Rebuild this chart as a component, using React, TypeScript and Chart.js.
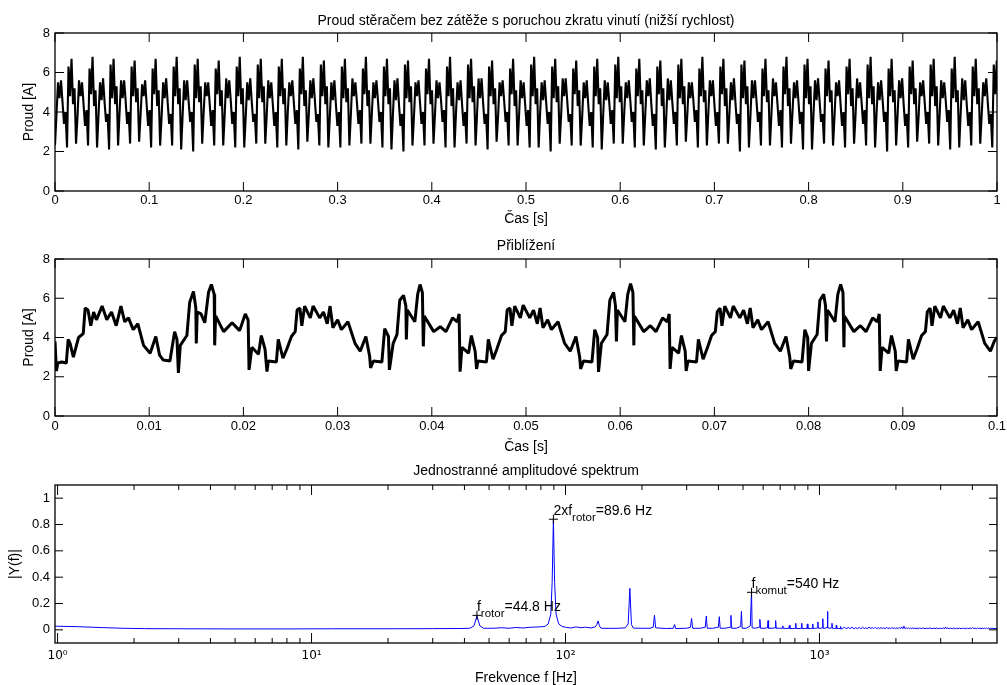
import React, { useEffect, useRef } from 'react';
import { Chart, registerables } from 'chart.js';

Chart.register(...registerables);

const FONT = "'Liberation Sans', Arial, Helvetica, sans-serif";
const SUP_FONT = "'DejaVu Sans', 'Liberation Sans', sans-serif";

// ---------- texts ----------
const topTitle = 'Proud stěračem bez zátěže s poruchou zkratu vinutí (nižší rychlost)';
const zoomTitle = 'Přiblížení';
const specTitle = 'Jednostranné amplitudové spektrum';
const timeAxisLabel = 'Čas [s]';
const currentAxisLabel = 'Proud [A]';
const freqAxisLabel = 'Frekvence f [Hz]';
const ampAxisLabel = '|Y(f)|';

// ---------- ticks ----------
const topXTicks = [0, 0.1, 0.2, 0.3, 0.4, 0.5, 0.6, 0.7, 0.8, 0.9, 1];
const topXTickLabels = ['0', '0.1', '0.2', '0.3', '0.4', '0.5', '0.6', '0.7', '0.8', '0.9', '1'];
const zoomXTicks = [0, 0.01, 0.02, 0.03, 0.04, 0.05, 0.06, 0.07, 0.08, 0.09, 0.1];
const zoomXTickLabels = ['0', '0.01', '0.02', '0.03', '0.04', '0.05', '0.06', '0.07', '0.08', '0.09', '0.1'];
const currentYTicks = [0, 2, 4, 6, 8];
const currentYTickLabels = ['0', '2', '4', '6', '8'];
const specXTicks = [1, 10, 100, 1000];
const specXTickLabels = ['10⁰', '10¹', '10²', '10³'];
const specXMinorTicks = [2, 3, 4, 5, 6, 7, 8, 9, 20, 30, 40, 50, 60, 70, 80, 90, 200, 300, 400, 500, 600, 700, 800, 900, 2000, 3000, 4000];
const specYTicks = [0, 0.2, 0.4, 0.6, 0.8, 1];
const specYTickLabels = ['0', '0.2', '0.4', '0.6', '0.8', '1'];

// ---------- top signal (1 s), condensed sequence of extremes, one row per rotor period ----------
const topSampleStep = 0.0015945; // s between successive readings
const topPeriodRows = [
  [2.3, 3.9, 5.5, 4.7, 5.6, 4.5, 3.4, 4.0, 2.2, 6.3, 4.8, 6.7, 4.4, 5.2],
  [2.4, 3.8, 5.6, 4.8, 5.5, 4.4, 3.3, 4.1, 2.3, 6.2, 4.9, 6.8, 4.3, 5.1],
  [2.2, 3.9, 5.5, 4.6, 5.7, 4.5, 3.5, 3.9, 2.1, 6.4, 4.7, 6.7, 4.4, 5.3],
  [2.3, 4.0, 5.6, 4.7, 5.6, 4.6, 3.4, 4.0, 2.4, 6.3, 4.8, 6.6, 4.5, 5.2],
  [2.5, 3.9, 5.4, 4.8, 5.6, 4.4, 3.3, 4.1, 2.2, 6.2, 4.9, 6.7, 4.3, 5.1],
  [2.3, 3.8, 5.5, 4.7, 5.7, 4.5, 3.4, 3.9, 2.3, 6.3, 4.8, 6.8, 4.4, 5.2],
  [2.1, 3.9, 5.6, 4.6, 5.6, 4.5, 3.5, 4.0, 2.0, 6.4, 4.7, 6.7, 4.5, 5.3],
  [2.4, 4.0, 5.5, 4.8, 5.5, 4.4, 3.3, 4.1, 2.3, 6.2, 4.9, 6.6, 4.3, 5.1],
  [2.3, 3.9, 5.7, 4.7, 5.6, 4.6, 3.4, 4.0, 2.2, 6.3, 4.8, 6.8, 4.4, 5.2],
  [2.2, 3.8, 5.5, 4.6, 5.7, 4.5, 3.5, 3.9, 2.4, 6.4, 4.7, 6.7, 4.5, 5.3],
  [2.4, 3.9, 5.6, 4.7, 5.5, 4.4, 3.3, 4.0, 2.2, 6.3, 4.8, 6.7, 4.4, 5.2],
  [2.3, 4.0, 5.5, 4.8, 5.6, 4.5, 3.4, 4.1, 2.1, 6.2, 4.9, 6.8, 4.3, 5.1],
  [2.5, 3.9, 5.6, 4.7, 5.7, 4.6, 3.5, 3.9, 2.3, 6.4, 4.8, 6.6, 4.4, 5.3],
  [2.2, 3.8, 5.5, 4.6, 5.6, 4.4, 3.3, 4.0, 2.2, 6.3, 4.7, 6.7, 4.5, 5.2],
  [2.3, 3.9, 5.7, 4.8, 5.5, 4.5, 3.4, 4.1, 2.4, 6.2, 4.9, 6.8, 4.3, 5.1],
  [2.4, 4.0, 5.5, 4.7, 5.6, 4.6, 3.5, 4.0, 2.2, 6.3, 4.8, 6.7, 4.4, 5.2],
  [2.1, 3.9, 5.6, 4.6, 5.7, 4.4, 3.3, 3.9, 2.0, 6.4, 4.7, 6.6, 4.5, 5.3],
  [2.3, 3.8, 5.5, 4.8, 5.6, 4.5, 3.4, 4.0, 2.3, 6.2, 4.9, 6.7, 4.4, 5.1],
  [2.4, 3.9, 5.6, 4.7, 5.5, 4.6, 3.5, 4.1, 2.2, 6.3, 4.8, 6.8, 4.3, 5.2],
  [2.2, 4.0, 5.5, 4.6, 5.6, 4.4, 3.3, 4.0, 2.4, 6.4, 4.7, 6.7, 4.5, 5.3],
  [2.3, 3.9, 5.7, 4.7, 5.7, 4.5, 3.4, 3.9, 2.1, 6.3, 4.8, 6.6, 4.4, 5.2],
  [2.5, 3.8, 5.5, 4.8, 5.6, 4.6, 3.5, 4.0, 2.3, 6.2, 4.9, 6.7, 4.3, 5.1],
  [2.3, 3.9, 5.6, 4.7, 5.5, 4.4, 3.3, 4.1, 2.2, 6.4, 4.8, 6.8, 4.4, 5.2],
  [2.2, 4.0, 5.5, 4.6, 5.6, 4.5, 3.4, 4.0, 2.0, 6.3, 4.7, 6.7, 4.5, 5.3],
  [2.4, 3.9, 5.7, 4.8, 5.7, 4.6, 3.5, 3.9, 2.3, 6.2, 4.9, 6.6, 4.3, 5.1],
  [2.3, 3.8, 5.5, 4.7, 5.6, 4.4, 3.3, 4.0, 2.2, 6.3, 4.8, 6.7, 4.4, 5.2],
  [2.1, 3.9, 5.6, 4.6, 5.5, 4.5, 3.4, 4.1, 2.4, 6.4, 4.7, 6.8, 4.5, 5.3],
  [2.4, 4.0, 5.5, 4.7, 5.6, 4.6, 3.5, 4.0, 2.2, 6.2, 4.8, 6.7, 4.4, 5.1],
  [2.3, 3.9, 5.6, 4.8, 5.7, 4.4, 3.3, 3.9, 2.1, 6.3, 4.9, 6.6, 4.3, 5.2],
  [2.2, 3.8, 5.7, 4.6, 5.6, 4.5, 3.4, 4.0, 2.3, 6.4, 4.7, 6.7, 4.4, 5.3],
  [2.5, 3.9, 5.5, 4.7, 5.5, 4.6, 3.5, 4.1, 2.2, 6.2, 4.8, 6.8, 4.5, 5.1],
  [2.3, 4.0, 5.6, 4.8, 5.6, 4.4, 3.3, 4.0, 2.4, 6.3, 4.9, 6.7, 4.3, 5.2],
  [2.4, 3.9, 5.5, 4.6, 5.7, 4.5, 3.4, 3.9, 2.0, 6.4, 4.7, 6.6, 4.4, 5.3],
  [2.2, 3.8, 5.6, 4.7, 5.6, 4.6, 3.5, 4.0, 2.3, 6.2, 4.8, 6.7, 4.5, 5.1],
  [2.3, 3.9, 5.7, 4.8, 5.5, 4.4, 3.3, 4.1, 2.2, 6.3, 4.9, 6.8, 4.3, 5.2],
  [2.4, 4.0, 5.5, 4.7, 5.6, 4.5, 3.4, 4.0, 2.1, 6.4, 4.7, 6.7, 4.4, 5.3],
  [2.1, 3.9, 5.6, 4.6, 5.7, 4.6, 3.5, 3.9, 2.4, 6.2, 4.8, 6.6, 4.5, 5.1],
  [2.3, 3.8, 5.5, 4.8, 5.6, 4.4, 3.3, 4.0, 2.2, 6.3, 4.9, 6.7, 4.3, 5.2],
  [2.4, 3.9, 5.7, 4.7, 5.5, 4.5, 3.4, 4.1, 2.3, 6.4, 4.7, 6.8, 4.4, 5.3],
  [2.2, 4.0, 5.5, 4.6, 5.6, 4.6, 3.5, 4.0, 2.0, 6.2, 4.8, 6.7, 4.5, 5.1],
  [2.3, 3.9, 5.6, 4.7, 5.7, 4.4, 3.3, 3.9, 2.2, 6.3, 4.9, 6.6, 4.4, 5.2],
  [2.5, 3.8, 5.5, 4.8, 5.6, 4.5, 3.4, 4.0, 2.4, 6.4, 4.8, 6.7, 4.3, 5.3],
  [2.3, 3.9, 5.6, 4.7, 5.5, 4.6, 3.5, 4.1, 2.1, 6.2, 4.7, 6.8, 4.5, 5.1],
  [2.2, 4.0, 5.7, 4.6, 5.6, 4.4, 3.3, 4.0, 2.3, 6.3, 4.8, 6.7, 4.4, 5.2],
  [2.4, 3.9, 5.5, 4.8, 5.7, 4.5, 3.4, 3.9, 2.2, 6.4, 4.9, 6.6, 4.3, 5.3],
];

// ---------- zoomed signal (0 .. 0.1 s) ----------
const zoomTimeMs = [
  0.0, 0.15, 0.3, 0.7, 1.2, 1.4, 1.6, 1.95, 2.5, 3.0, 3.2, 3.5, 3.8, 4.1, 4.4, 5.0, 5.5, 6.0, 6.5, 7.0,
  7.4, 7.8, 8.3, 8.8, 9.4, 10.1, 10.7, 11.1, 11.5, 12.2, 12.7, 12.95, 13.1, 13.3, 14.0, 14.3, 14.7, 14.95, 15.0, 15.1,
  15.5, 15.9, 16.3, 16.6, 16.9, 16.95, 17.05, 17.9, 18.8, 19.6, 20.2, 20.5, 20.6, 20.9, 21.6, 21.9, 22.3, 22.5, 22.65, 23.5,
  23.7, 24.2, 24.6, 25.1, 25.5, 25.7, 26.0, 26.2, 26.5, 27.1, 27.4, 28.1, 28.5, 28.9, 29.2, 29.5, 30.0, 30.4, 31.1, 31.85,
  32.4, 33.0, 33.4, 33.5, 33.8, 34.7, 35.0, 35.4, 35.5, 35.9, 36.3, 36.6, 37.0, 37.25, 37.3, 37.4, 38.2, 38.5, 38.75, 39.0,
  39.1, 39.2, 40.2, 40.9, 41.5, 42.2, 42.7, 42.9, 43.0, 43.2, 43.9, 44.2, 44.6, 44.75, 44.9, 45.8, 46.0, 46.5, 46.9, 47.4,
  47.8, 48.0, 48.3, 48.5, 48.8, 49.4, 49.7, 50.4, 50.8, 51.2, 51.5, 51.8, 52.3, 52.7, 53.4, 54.1, 54.7, 55.3, 55.7, 55.8,
  56.1, 57.0, 57.3, 57.6, 57.7, 58.0, 58.6, 58.9, 59.3, 59.5, 59.6, 59.7, 60.5, 60.8, 61.1, 61.35, 61.45, 61.5, 62.5, 63.2,
  63.8, 64.5, 65.0, 65.2, 65.3, 65.5, 66.2, 66.5, 66.9, 67.0, 67.2, 68.1, 68.3, 68.8, 69.2, 69.7, 70.1, 70.3, 70.6, 70.8,
  71.1, 71.7, 72.0, 72.7, 73.1, 73.5, 73.8, 74.1, 74.6, 75.0, 75.7, 76.4, 77.0, 77.6, 78.0, 78.1, 78.4, 79.3, 79.6, 79.9,
  80.0, 80.3, 80.9, 81.2, 81.6, 81.8, 81.9, 82.0, 82.8, 83.1, 83.4, 83.65, 83.75, 83.8, 84.8, 85.5, 86.1, 86.8, 87.3, 87.5,
  87.6, 87.8, 88.5, 88.8, 89.2, 89.3, 89.5, 90.4, 90.6, 91.1, 91.5, 92.0, 92.4, 92.6, 92.9, 93.1, 93.4, 94.0, 94.3, 95.0,
  95.4, 95.8, 96.1, 96.4, 96.9, 97.3, 98.0, 98.7, 99.3, 99.7, 100.0,
];
const zoomCurrent = [
  3.8, 2.3, 2.7, 2.75, 2.7, 3.9, 3.7, 3.0, 4.0, 4.2, 5.5, 5.4, 4.6, 5.3, 4.9, 5.6, 4.9, 5.3, 4.6, 5.6,
  4.8, 5.0, 4.4, 4.7, 3.6, 3.2, 4.05, 3.1, 2.85, 2.8, 4.3, 3.9, 2.2, 3.6, 4.1, 5.8, 6.35, 5.5, 3.7, 5.3,
  5.2, 4.75, 6.3, 6.7, 6.2, 3.6, 5.1, 4.3, 4.75, 4.35, 5.2, 4.9, 2.35, 3.5, 3.15, 4.1, 3.4, 2.26, 2.8, 2.75,
  3.9, 2.95, 3.4, 4.05, 4.3, 5.4, 5.5, 4.6, 5.6, 5.0, 5.6, 5.0, 5.3, 4.7, 5.6, 4.5, 4.9, 4.4, 4.8, 3.7,
  3.3, 4.05, 3.05, 2.45, 2.8, 2.75, 4.45, 4.05, 2.35, 3.7, 4.15, 5.9, 6.15, 5.6, 3.9, 5.4, 4.8, 6.2, 6.7, 6.3,
  3.55, 5.1, 4.3, 4.55, 4.3, 5.0, 4.8, 5.2, 2.26, 3.5, 3.2, 4.1, 3.3, 2.4, 2.8, 2.75, 3.9, 2.9, 3.4, 4.1,
  4.3, 5.4, 5.5, 4.6, 5.6, 5.0, 5.65, 5.0, 5.4, 4.7, 5.5, 4.5, 4.9, 4.4, 4.8, 3.7, 3.3, 4.05, 3.0, 2.4,
  2.8, 2.75, 4.4, 4.0, 2.25, 3.7, 4.15, 5.9, 6.3, 5.6, 3.8, 5.4, 4.8, 6.2, 6.75, 6.3, 3.6, 5.1, 4.3, 4.6,
  4.3, 5.0, 4.8, 5.2, 2.4, 3.5, 3.2, 4.1, 3.3, 2.3, 2.8, 2.75, 3.9, 2.9, 3.4, 4.1, 4.3, 5.3, 5.5, 4.6,
  5.6, 5.0, 5.6, 5.0, 5.4, 4.7, 5.5, 4.5, 4.9, 4.4, 4.8, 3.7, 3.3, 4.05, 3.0, 2.4, 2.8, 2.75, 4.4, 4.0,
  2.3, 3.7, 4.15, 5.9, 6.2, 5.6, 3.8, 5.4, 4.8, 6.2, 6.7, 6.3, 3.5, 5.1, 4.3, 4.6, 4.3, 5.0, 4.8, 5.2,
  2.3, 3.5, 3.2, 4.1, 3.3, 2.3, 2.8, 2.75, 3.9, 2.9, 3.4, 4.1, 4.3, 5.3, 5.5, 4.6, 5.6, 5.0, 5.6, 5.0,
  5.4, 4.7, 5.5, 4.5, 4.9, 4.4, 4.8, 3.7, 3.3, 3.8, 4.0,
];

// ---------- single-sided amplitude spectrum ----------
const specFreq = [
  0.977, 1.2, 1.5, 1.8, 2.2, 3, 5, 8, 12, 20, 30, 38, 42, 43.6, 44.8, 46, 47.6, 52, 56, 60,
  64, 68, 72, 76, 80, 83, 85.5, 87.5, 88.6, 89.6, 90.6, 91.8, 94, 97, 101, 105, 110, 115, 120, 126,
  131, 132.8, 134.4, 136, 138, 150, 162, 172, 176.5, 179.2, 181.8, 185, 200, 215, 221.5, 224, 226.5, 250, 266, 268.8,
  271.5, 300, 310.5, 313.6, 316.5, 340, 355, 358.4, 361.5, 380, 400, 403.2, 406.5, 425, 445, 448, 451, 470, 489.5, 492.8,
  496, 515, 534, 540, 543, 560, 579, 582.4, 586, 605, 624, 627.2, 630.5, 650, 668.5, 672, 675.5, 695, 713, 716.8,
  720.5, 740, 758, 761.6, 765, 785, 803, 806.4, 810, 830, 848, 851.2, 855, 875, 893, 896, 900, 920, 937.5, 940.8,
  944, 965, 982, 985.6, 989, 1010, 1027, 1030.4, 1034, 1055, 1071, 1075.2, 1079, 1100, 1116, 1120, 1124, 1145, 1161, 1164.8,
  1169, 1190, 1206, 1209.6, 1214, 1235, 1254, 1275, 1299, 1320, 1344, 1365, 1389, 1410, 1434, 1455, 1478, 1500, 1523, 1545,
  1568, 1590, 1613, 1635, 1658, 1680, 1702, 1725, 1747, 1770, 1792, 1815, 1837, 1860, 1882, 1905, 1926, 1950, 1971, 1995,
  2016, 2040, 2061, 2085, 2106, 2130, 2150, 2175, 2195, 2220, 2240, 2265, 2285, 2310, 2330, 2355, 2374, 2400, 2419, 2450,
  2480, 2520, 2555, 2600, 2640, 2680, 2725, 2770, 2810, 2850, 2895, 2940, 2985, 3030, 3075, 3110, 3135, 3165, 3200, 3245,
  3290, 3335, 3380, 3425, 3470, 3515, 3560, 3605, 3650, 3695, 3740, 3785, 3830, 3875, 3920, 3965, 4010, 4055, 4100, 4145,
  4190, 4235, 4280, 4325, 4370, 4415, 4460, 4505, 4550, 4595, 4640, 4685, 4730, 4775, 4820, 4865, 4910, 4955, 5000,
];
const specAmp = [
  0.028, 0.024, 0.017, 0.012, 0.009, 0.008, 0.007, 0.007, 0.008, 0.008, 0.009, 0.010, 0.012, 0.03, 0.105, 0.03, 0.012, 0.012, 0.016, 0.012,
  0.018, 0.014, 0.019, 0.021, 0.023, 0.026, 0.045, 0.12, 0.36, 0.84, 0.36, 0.12, 0.045, 0.025, 0.018, 0.014, 0.022, 0.016, 0.02, 0.014,
  0.022, 0.04, 0.068, 0.03, 0.012, 0.011, 0.012, 0.015, 0.045, 0.315, 0.04, 0.013, 0.012, 0.012, 0.02, 0.11, 0.015, 0.01, 0.012, 0.04,
  0.01, 0.012, 0.02, 0.087, 0.012, 0.012, 0.02, 0.105, 0.012, 0.012, 0.02, 0.10, 0.012, 0.012, 0.02, 0.11, 0.012, 0.012, 0.025, 0.14,
  0.012, 0.012, 0.03, 0.29, 0.015, 0.012, 0.02, 0.08, 0.012, 0.012, 0.015, 0.07, 0.012, 0.012, 0.015, 0.07, 0.012, 0.012, 0.012, 0.03,
  0.012, 0.01, 0.012, 0.035, 0.01, 0.01, 0.012, 0.05, 0.01, 0.01, 0.012, 0.05, 0.01, 0.01, 0.012, 0.045, 0.01, 0.01, 0.012, 0.045,
  0.01, 0.012, 0.015, 0.06, 0.012, 0.012, 0.015, 0.085, 0.012, 0.012, 0.02, 0.14, 0.015, 0.012, 0.015, 0.05, 0.012, 0.01, 0.012, 0.035,
  0.01, 0.01, 0.01, 0.025, 0.008, 0.009, 0.022, 0.008, 0.018, 0.009, 0.02, 0.008, 0.016, 0.009, 0.018, 0.008, 0.02, 0.009, 0.016, 0.008,
  0.022, 0.009, 0.018, 0.008, 0.02, 0.009, 0.016, 0.008, 0.018, 0.009, 0.016, 0.008, 0.02, 0.009, 0.015, 0.008, 0.018, 0.009, 0.016, 0.008,
  0.015, 0.009, 0.018, 0.008, 0.022, 0.009, 0.028, 0.008, 0.016, 0.009, 0.015, 0.008, 0.014, 0.009, 0.016, 0.008, 0.013, 0.009, 0.015, 0.008,
  0.014, 0.009, 0.015, 0.008, 0.013, 0.009, 0.015, 0.008, 0.013, 0.009, 0.014, 0.008, 0.013, 0.009, 0.015, 0.008, 0.022, 0.009, 0.014, 0.008,
  0.013, 0.009, 0.014, 0.008, 0.013, 0.009, 0.014, 0.008, 0.013, 0.009, 0.014, 0.008, 0.013, 0.009, 0.014, 0.008, 0.018, 0.009, 0.013, 0.008,
  0.014, 0.009, 0.013, 0.008, 0.014, 0.009, 0.013, 0.008, 0.014, 0.009, 0.013, 0.008, 0.014, 0.009, 0.013, 0.008, 0.012, 0.009, 0.01,
];

// marked peaks
const peakFreq = [44.8, 89.6, 540];
const peakAmp = [0.11, 0.84, 0.285];
const peakPrefix = ['f', '2xf', 'f'];
const peakSub = ['rotor', 'rotor', 'komut'];
const peakSuffix = ['=44.8 Hz', '=89.6 Hz', '=540 Hz'];

// ---------- plugins ----------
const framePlugin = {
  id: 'matlabFrame',
  afterDraw(chart: any, _args: any, opts: any) {
    const { ctx, chartArea: a, scales } = chart;
    const xs = scales.x;
    const ys = scales.y;
    ctx.save();
    ctx.strokeStyle = '#000';
    ctx.lineWidth = 1;
    ctx.beginPath();
    const xTick = (v: number, len: number) => {
      const p = xs.getPixelForValue(v);
      ctx.moveTo(p, a.bottom);
      ctx.lineTo(p, a.bottom - len);
      ctx.moveTo(p, a.top);
      ctx.lineTo(p, a.top + len);
    };
    (opts.xMajor || []).forEach((v: number) => xTick(v, opts.xLen));
    (opts.xMinor || []).forEach((v: number) => xTick(v, opts.xMinorLen));
    (opts.yMajor || []).forEach((v: number) => {
      const p = ys.getPixelForValue(v);
      ctx.moveTo(a.left, p);
      ctx.lineTo(a.left + opts.yLen, p);
      ctx.moveTo(a.right, p);
      ctx.lineTo(a.right - opts.yLen, p);
    });
    ctx.stroke();
    ctx.lineWidth = 1.3;
    ctx.strokeRect(a.left, a.top, a.right - a.left, a.bottom - a.top);
    ctx.restore();
  },
};

const captionPlugin = {
  id: 'caption',
  afterDraw(chart: any, _args: any, opts: any) {
    const { ctx, chartArea: a } = chart;
    ctx.save();
    ctx.fillStyle = '#000';
    ctx.font = `14px ${FONT}`;
    ctx.textAlign = 'center';
    ctx.textBaseline = 'alphabetic';
    ctx.fillText(opts.text, (a.left + a.right) / 2, opts.baseline);
    ctx.restore();
  },
};

const peakLabelPlugin = {
  id: 'peakLabels',
  afterDatasetsDraw(chart: any) {
    const { ctx, scales } = chart;
    ctx.save();
    ctx.fillStyle = '#000';
    ctx.textAlign = 'left';
    ctx.textBaseline = 'alphabetic';
    peakFreq.forEach((f, i) => {
      let px = scales.x.getPixelForValue(f);
      const py = scales.y.getPixelForValue(peakAmp[i]);
      ctx.font = `14px ${FONT}`;
      ctx.fillText(peakPrefix[i], px, py - 4);
      px += ctx.measureText(peakPrefix[i]).width;
      ctx.font = `11.5px ${FONT}`;
      ctx.fillText(peakSub[i], px, py + 2);
      px += ctx.measureText(peakSub[i]).width;
      ctx.font = `14px ${FONT}`;
      ctx.fillText(peakSuffix[i], px, py - 4);
    });
    ctx.restore();
  },
};

// ---------- config builders ----------
function yAxisLeft(opts: any) {
  return {
    type: 'linear',
    min: opts.min,
    max: opts.max,
    afterBuildTicks: (s: any) => {
      s.ticks = opts.ticks.map((v: number) => ({ value: v }));
    },
    afterFit: (s: any) => {
      s.width = 55;
      s.paddingTop = 0;
      s.paddingBottom = 0;
    },
    ticks: {
      autoSkip: false,
      padding: 5,
      color: '#000',
      font: { family: FONT, size: opts.tickSize },
      callback: (_v: any, i: number) => opts.labels[i],
    },
    grid: { display: false, drawTicks: false },
    border: { display: false },
    title: {
      display: true,
      text: opts.title,
      color: '#000',
      font: { family: FONT, size: 14 },
      padding: { top: opts.titleOffset, bottom: 0 },
    },
  };
}

function xAxisBottom(opts: any) {
  return {
    type: opts.type || 'linear',
    min: opts.min,
    max: opts.max,
    afterBuildTicks: (s: any) => {
      s.ticks = opts.ticks.map((v: number) => ({ value: v }));
    },
    afterFit: (s: any) => {
      s.height = opts.height;
      s.paddingLeft = 0;
      s.paddingRight = 0;
    },
    ticks: {
      autoSkip: false,
      maxRotation: 0,
      minRotation: 0,
      padding: opts.tickPad,
      color: '#000',
      font: { family: opts.tickFamily || FONT, size: opts.tickSize },
      callback: (_v: any, i: number) => opts.labels[i],
    },
    grid: { display: false, drawTicks: false },
    border: { display: false },
    title: {
      display: true,
      text: opts.title,
      color: '#000',
      font: { family: FONT, size: 14, lineHeight: 1 },
      padding: { top: 0, bottom: opts.titlePad },
    },
  };
}

function signalConfig(opts: any): any {
  return {
    type: 'line',
    data: {
      datasets: [
        {
          data: opts.points,
          borderColor: '#000',
          borderWidth: opts.lineWidth,
          borderJoinStyle: 'bevel',
          pointRadius: 0,
          tension: 0,
          fill: false,
        },
      ],
    },
    options: {
      responsive: false,
      animation: false,
      devicePixelRatio: 1,
      parsing: false,
      layout: { padding: { left: 0, right: 10, top: opts.areaTop, bottom: 0 } },
      plugins: {
        legend: { display: false },
        tooltip: { enabled: false },
        matlabFrame: { xMajor: opts.xTicks, yMajor: currentYTicks, xLen: 9, yLen: 9 },
        caption: { text: opts.caption, baseline: opts.captionBaseline },
      },
      scales: {
        x: xAxisBottom({
          min: 0,
          max: opts.xMax,
          ticks: opts.xTicks,
          labels: opts.xLabels,
          height: opts.xAxisHeight,
          tickPad: opts.tickPad,
          tickSize: 13,
          title: timeAxisLabel,
          titlePad: opts.xTitlePad,
        }),
        y: yAxisLeft({
          min: 0,
          max: 8,
          ticks: currentYTicks,
          labels: currentYTickLabels,
          tickSize: 13,
          title: currentAxisLabel,
          titleOffset: 21,
        }),
      },
    },
    plugins: [framePlugin, captionPlugin],
  };
}

function spectrumConfig(): any {
  const linePoints = specFreq.map((f, i) => ({ x: f, y: specAmp[i] }));
  const markerPoints = peakFreq.map((f, i) => ({ x: f, y: peakAmp[i] }));
  return {
    type: 'line',
    data: {
      datasets: [
        {
          data: markerPoints,
          showLine: false,
          pointStyle: 'cross',
          pointRadius: 4.5,
          pointBorderColor: '#000',
          pointBorderWidth: 1,
          borderColor: '#000',
        },
        {
          data: linePoints,
          borderColor: '#0000ff',
          borderWidth: 1,
          pointRadius: 0,
          tension: 0,
          fill: false,
        },
      ],
    },
    options: {
      responsive: false,
      animation: false,
      devicePixelRatio: 1,
      parsing: false,
      layout: { padding: { left: 0, right: 10, top: 25, bottom: 0 } },
      plugins: {
        legend: { display: false },
        tooltip: { enabled: false },
        matlabFrame: {
          xMajor: specXTicks,
          xMinor: specXMinorTicks,
          yMajor: specYTicks,
          xLen: 10,
          xMinorLen: 5,
          yLen: 8,
        },
        caption: { text: specTitle, baseline: 15 },
      },
      scales: {
        x: xAxisBottom({
          type: 'logarithmic',
          min: 0.977,
          max: 5000,
          ticks: specXTicks,
          labels: specXTickLabels,
          height: 42,
          tickPad: 6,
          tickSize: 12,
          tickFamily: SUP_FONT,
          title: freqAxisLabel,
          titlePad: 0,
        }),
        y: yAxisLeft({
          min: -0.1,
          max: 1.1,
          ticks: specYTicks,
          labels: specYTickLabels,
          tickSize: 13,
          title: ampAxisLabel,
          titleOffset: 7,
        }),
      },
    },
    plugins: [framePlugin, peakLabelPlugin, captionPlugin],
  };
}

export default function App() {
  const topRef = useRef<HTMLCanvasElement>(null);
  const zoomRef = useRef<HTMLCanvasElement>(null);
  const specRef = useRef<HTMLCanvasElement>(null);

  useEffect(() => {
    const topValues = topPeriodRows.flat();
    const topPoints = topValues.map((v, i) => ({ x: i * topSampleStep, y: v }));
    const zoomPoints = zoomTimeMs.map((t, i) => ({ x: t / 1000, y: zoomCurrent[i] }));

    const charts = [
      new Chart(
        topRef.current as HTMLCanvasElement,
        signalConfig({
          points: topPoints,
          lineWidth: 2.1,
          xMax: 1,
          xTicks: topXTicks,
          xLabels: topXTickLabels,
          areaTop: 33,
          xAxisHeight: 39,
          tickPad: 2,
          xTitlePad: 4,
          caption: topTitle,
          captionBaseline: 25,
        })
      ),
      new Chart(
        zoomRef.current as HTMLCanvasElement,
        signalConfig({
          points: zoomPoints,
          lineWidth: 3,
          xMax: 0.1,
          xTicks: zoomXTicks,
          xLabels: zoomXTickLabels,
          areaTop: 29,
          xAxisHeight: 44,
          tickPad: 3,
          xTitlePad: 6,
          caption: zoomTitle,
          captionBaseline: 20,
        })
      ),
      new Chart(specRef.current as HTMLCanvasElement, spectrumConfig()),
    ];
    return () => charts.forEach((c) => c.destroy());
  }, []);

  return (
    <div style={{ position: 'fixed', left: 0, top: 0, width: 1007, height: 685, background: '#fff' }}>
      <div style={{ position: 'absolute', left: 0, top: 0, width: 1007, height: 230 }}>
        <canvas ref={topRef} width={1007} height={230} style={{ display: 'block' }} />
      </div>
      <div style={{ position: 'absolute', left: 0, top: 230, width: 1007, height: 230 }}>
        <canvas ref={zoomRef} width={1007} height={230} style={{ display: 'block' }} />
      </div>
      <div style={{ position: 'absolute', left: 0, top: 460, width: 1007, height: 225 }}>
        <canvas ref={specRef} width={1007} height={225} style={{ display: 'block' }} />
      </div>
    </div>
  );
}
